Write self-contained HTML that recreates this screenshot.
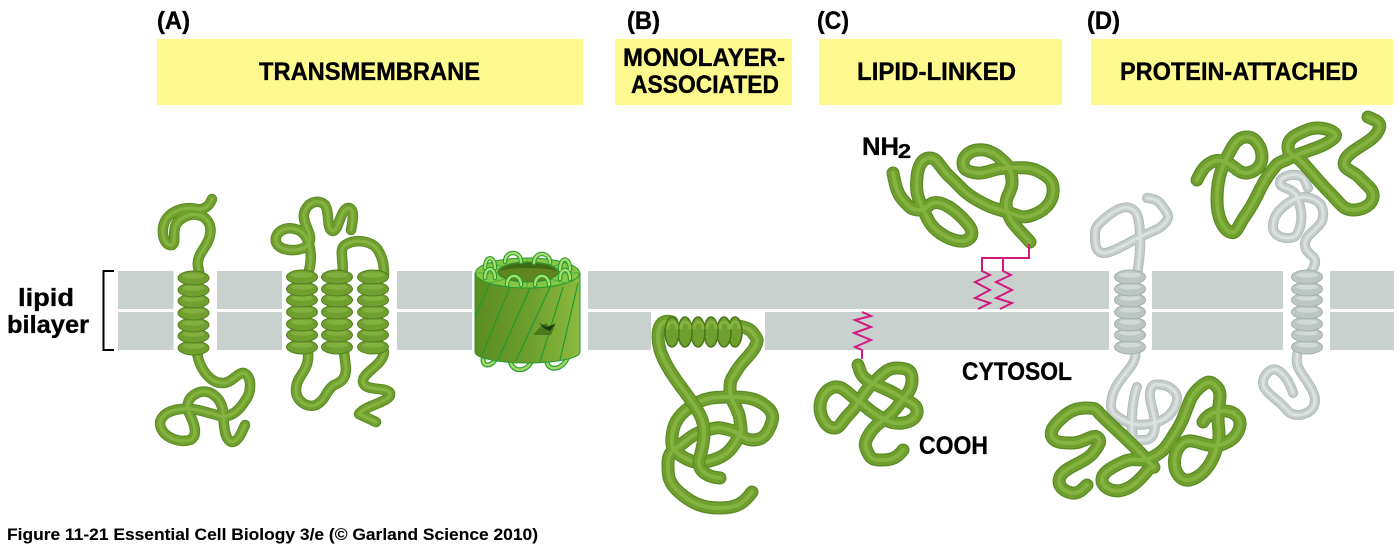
<!DOCTYPE html>
<html>
<head>
<meta charset="utf-8">
<style>
html,body{margin:0;padding:0;background:#fff;width:1400px;height:549px;overflow:hidden}
svg{display:block}
text{font-family:"Liberation Sans",sans-serif;font-weight:bold;fill:#000;stroke:#000;stroke-width:0.35px}
.tube{fill:none;stroke-linecap:round;stroke-linejoin:round}
.o{stroke:#5a8a22;stroke-width:10.5}
.m{stroke:#6f9f2e;stroke-width:8.5}
.h{stroke:#84b340;stroke-width:3.2}
.O{stroke:#5a8a22;stroke-width:13}
.M{stroke:#6f9f2e;stroke-width:10.5}
.H{stroke:#84b340;stroke-width:4}
.go{stroke:#b0bab8;stroke-width:10}
.gm{stroke:#c4cdcb;stroke-width:8}
.gh{stroke:#dbe1df;stroke-width:3}
.lip{fill:none;stroke:#d3187f;stroke-width:2}
</style>
</head>
<body>
<svg width="1400" height="549" viewBox="0 0 1400 549" xmlns="http://www.w3.org/2000/svg">
<defs>
<path id="a1" d="M212,199 C209,207 203,210 197,209 C183,206 165,212 163,228 C162,240 167,246 172,245 C176,243 173,235 175,227 C178,218 190,213 198,215 C208,217 212,226 210,235 C208,247 196,254 198,266 L200,277"/>
<path id="a2" d="M197,352 C199,368 210,384 224,383 C233,382 238,372 244,373 C252,376 252,392 245,401 C238,412 230,418 220,416 C205,412 190,406 175,410 C163,413 158,420 161,428 C165,438 180,443 190,440 C198,436 195,425 190,415 C185,405 188,396 200,392 C212,389 222,400 223,412 C224,425 224,440 232,442 C238,442 242,432 245,425"/>
<path id="a3" d="M308,274 C314,255 310,232 295,229 C283,226 274,234 276,242 C279,252 300,252 307,246 C316,236 302,225 304,214 C306,203 318,198 325,205 C330,212 326,230 333,231 C339,230 340,210 348,208 C355,208 353,220 351,230"/>
<path id="a4" d="M342,275 C345,262 338,250 345,245 C356,238 372,241 378,250 C383,258 384,266 384,275"/>
<path id="a5" d="M308,352 C310,372 296,375 296,390 C296,402 308,408 316,405 C326,400 326,390 334,385 C342,382 346,378 346,368 L344,352"/>
<path id="a6" d="M384,352 C383,366 362,372 363,382 C365,392 385,386 390,393 C392,402 365,405 359,414 L376,422"/>
<path id="b1" d="M672,322 C660,318 655,330 660,350 C668,375 690,395 700,415 C708,430 702,450 699,460 C698,472 708,477 720,478"/>
<path id="b2" d="M735,325 C741,327 749,327 753,333 S759,339 755,347 S743,360 737,370 S730,379 730,390 S739,409 740,420 S743,430 737,440 S726,456 713,460 S693,463 683,457 S671,448 672,437 S676,417 690,407 S715,397 733,397 S759,400 767,407 S773,420 770,427 S763,440 753,440 S741,433 730,430 S718,427 707,430 S693,435 683,443 S668,452 668,463 S667,482 680,493 S703,508 720,508 S744,503 752,492"/>
<path id="c1" d="M893,173 C895,182 896,192 903,200 S912,210 920,210 S929,200 940,203 S960,215 967,223 S973,237 967,240 S950,240 940,233 S928,220 922,207 S916,188 917,177 S922,158 930,158 S939,167 950,177 S963,192 977,200 S994,208 1007,212 S1022,219 1033,215 S1052,203 1053,193 S1051,178 1040,172 S1021,168 1007,168 S987,174 977,173 S963,169 963,163 S969,151 977,150 S992,151 1000,158 S1011,167 1012,180 S1003,196 1007,210 S1016,226 1030,242"/>
<path id="c2" d="M858,365 C860,370 860,375 867,380 S886,388 897,395 S916,403 917,410 S911,422 903,423 S891,423 880,417 S867,407 857,400 S843,386 835,387 S820,397 820,407 S826,427 833,428 S840,423 850,413 S862,393 873,383 S887,368 897,368 S912,370 912,380 S907,394 897,407 S877,422 870,433 S865,446 868,453 S875,460 883,460 S897,458 903,450"/>
<path id="d1" d="M1137,276 C1139,262 1141,248 1140,233 S1138,211 1130,208 S1111,213 1103,220 S1095,229 1095,237 S1096,252 1103,253 S1126,244 1140,237 S1159,230 1165,223 S1167,213 1163,207 S1156,199 1147,198"/>
<path id="d2" d="M1135,350 C1135,353 1137,355 1133,363 S1115,383 1112,397 S1112,414 1123,420 S1144,426 1157,422 S1176,408 1177,400 S1170,386 1163,385 S1151,383 1150,393 S1156,416 1155,427 S1149,440 1143,440 S1133,443 1132,430 S1133,397 1137,387"/>
<path id="d3" d="M1310,274 C1312,270 1316,265 1315,260 S1304,253 1305,243 S1322,228 1323,217 S1320,201 1310,198 S1291,200 1283,207 S1273,220 1273,227 S1280,238 1287,238 S1297,237 1300,227 S1301,207 1297,197 S1280,189 1280,183 S1290,174 1297,175 S1305,180 1308,188"/>
<path id="d4" d="M1298,350 C1298,354 1295,359 1298,367 S1315,389 1315,400 S1305,415 1297,415 S1288,410 1280,403 S1263,390 1263,383 S1270,367 1277,370 S1290,383 1293,393"/>
<path id="d5" d="M1197,180 C1200,174 1203,167 1210,163 S1219,160 1227,163 S1239,174 1247,173 S1262,166 1262,157 S1256,137 1247,137 S1234,143 1227,157 S1217,183 1217,200 S1223,229 1230,232 S1237,227 1247,213 S1260,186 1270,173 S1276,165 1290,158 S1317,149 1327,143 S1337,135 1333,132 S1317,126 1307,130 S1288,138 1288,147 S1293,152 1303,163 S1319,182 1330,193 S1343,210 1353,210 S1372,205 1373,197 S1367,186 1360,178 S1341,170 1345,160 S1371,143 1377,133 S1379,122 1368,117"/>
<path id="d6" d="M1087,485 C1082,490 1078,494 1072,493 S1056,487 1060,477 S1085,463 1093,453 S1101,440 1097,437 S1083,443 1073,443 S1055,443 1052,437 S1055,424 1063,417 S1077,408 1087,408 S1095,409 1103,417 S1136,447 1147,460 S1154,463 1148,470 S1134,487 1123,490 S1102,487 1102,480 S1110,468 1123,462 S1140,464 1153,457 S1167,445 1177,430 S1187,400 1197,390 S1211,380 1217,387 S1218,403 1218,417 S1221,433 1217,447 S1207,471 1197,477 S1181,480 1177,473 S1173,450 1183,443 S1206,449 1220,445 S1239,433 1240,425 S1233,411 1225,411 S1208,413 1203,422"/>
<g id="hg">
<ellipse cx="0" cy="70" rx="15.500" ry="7" fill="#6f9f2e" stroke="#527f1c"/><ellipse cx="0" cy="68" rx="11" ry="2.800" fill="#82b03e"/>
<ellipse cx="0" cy="58" rx="15.500" ry="7" fill="#6f9f2e" stroke="#527f1c"/><ellipse cx="0" cy="56" rx="11" ry="2.800" fill="#82b03e"/>
<ellipse cx="0" cy="47" rx="15.500" ry="7" fill="#6f9f2e" stroke="#527f1c"/><ellipse cx="0" cy="45" rx="11" ry="2.800" fill="#82b03e"/>
<ellipse cx="0" cy="35" rx="15.500" ry="7" fill="#6f9f2e" stroke="#527f1c"/><ellipse cx="0" cy="33" rx="11" ry="2.800" fill="#82b03e"/>
<ellipse cx="0" cy="23" rx="15.500" ry="7" fill="#6f9f2e" stroke="#527f1c"/><ellipse cx="0" cy="21" rx="11" ry="2.800" fill="#82b03e"/>
<ellipse cx="0" cy="12" rx="15.500" ry="7" fill="#6f9f2e" stroke="#527f1c"/><ellipse cx="0" cy="10" rx="11" ry="2.800" fill="#82b03e"/>
<ellipse cx="0" cy="0" rx="15.500" ry="7" fill="#6f9f2e" stroke="#527f1c"/><ellipse cx="0" cy="-2" rx="11" ry="2.800" fill="#82b03e"/>
</g>
<g id="hy">
<ellipse cx="0" cy="70" rx="15.500" ry="7" fill="#bcc6c4" stroke="#a5b0ae"/><ellipse cx="0" cy="68" rx="11" ry="2.600" fill="#d2d9d7"/>
<ellipse cx="0" cy="58" rx="15.500" ry="7" fill="#bcc6c4" stroke="#a5b0ae"/><ellipse cx="0" cy="56" rx="11" ry="2.600" fill="#d2d9d7"/>
<ellipse cx="0" cy="47" rx="15.500" ry="7" fill="#bcc6c4" stroke="#a5b0ae"/><ellipse cx="0" cy="45" rx="11" ry="2.600" fill="#d2d9d7"/>
<ellipse cx="0" cy="35" rx="15.500" ry="7" fill="#bcc6c4" stroke="#a5b0ae"/><ellipse cx="0" cy="33" rx="11" ry="2.600" fill="#d2d9d7"/>
<ellipse cx="0" cy="23" rx="15.500" ry="7" fill="#bcc6c4" stroke="#a5b0ae"/><ellipse cx="0" cy="21" rx="11" ry="2.600" fill="#d2d9d7"/>
<ellipse cx="0" cy="12" rx="15.500" ry="7" fill="#bcc6c4" stroke="#a5b0ae"/><ellipse cx="0" cy="10" rx="11" ry="2.600" fill="#d2d9d7"/>
<ellipse cx="0" cy="0" rx="15.500" ry="7" fill="#bcc6c4" stroke="#a5b0ae"/><ellipse cx="0" cy="-2" rx="11" ry="2.600" fill="#d2d9d7"/>
</g>
<linearGradient id="bar" x1="0" x2="1" y1="0" y2="0"><stop offset="0" stop-color="#5d8c23"/><stop offset="0.55" stop-color="#6f9f2e"/><stop offset="1" stop-color="#8dbb3f"/></linearGradient>
<clipPath id="barclip"><path d="M475,273 L475,352 A52.5,11 0 0 0 580,352 L580,273 A52.5,15 0 0 1 475,273 Z"/></clipPath>
</defs>

<!-- yellow labels -->
<g fill="#fdf98e">
<rect x="157" y="39" width="426" height="66"/>
<rect x="615" y="39" width="177" height="66"/>
<rect x="819" y="39" width="243" height="66"/>
<rect x="1091" y="39" width="302" height="66"/>
</g>

<!-- membrane -->
<g fill="#c8d1ce">
<rect x="118" y="271" width="55.500" height="38"/><rect x="118" y="312" width="55.500" height="38"/>
<rect x="217" y="271" width="65" height="38"/><rect x="217" y="312" width="65" height="38"/>
<rect x="397" y="271" width="75" height="38"/><rect x="397" y="312" width="75" height="38"/>
<rect x="588" y="271" width="521" height="38"/>
<rect x="588" y="312" width="63" height="38"/><rect x="765" y="312" width="344" height="38"/>
<rect x="1152" y="271" width="131" height="38"/><rect x="1152" y="312" width="131" height="38"/>
<rect x="1330" y="271" width="64" height="38"/><rect x="1330" y="312" width="64" height="38"/>
</g>

<!-- bracket -->
<path d="M114,271 H103.500 V350 H114" fill="none" stroke="#000" stroke-width="2"/>

<!-- A -->
<g class="tube">
<use href="#a1" class="o"/><use href="#a1" class="m"/><use href="#a1" class="h"/>
<use href="#a2" class="o"/><use href="#a2" class="m"/><use href="#a2" class="h"/>
<use href="#a3" class="o"/><use href="#a3" class="m"/><use href="#a3" class="h"/>
<use href="#a4" class="o"/><use href="#a4" class="m"/><use href="#a4" class="h"/>
<use href="#a5" class="o"/><use href="#a5" class="m"/><use href="#a5" class="h"/>
<use href="#a6" class="o"/><use href="#a6" class="m"/><use href="#a6" class="h"/>
</g>
<use href="#hg" x="193.500" y="278"/>
<use href="#hg" x="302" y="277"/>
<use href="#hg" x="337" y="277"/>
<use href="#hg" x="373" y="277"/>

<!-- barrel -->
<path d="M485,353 C478,368 492,368 496,358 M510,360 C512,374 528,372 532,360 M547,362 C548,372 564,370 568,356" fill="none" stroke="#2f9a35" stroke-width="5" stroke-linecap="round"/>
<path d="M485,353 C478,368 492,368 496,358 M510,360 C512,374 528,372 532,360 M547,362 C548,372 564,370 568,356" fill="none" stroke="#9fdc66" stroke-width="2.500" stroke-linecap="round"/>
<path d="M475,273 L475,352 A52.5,11 0 0 0 580,352 L580,273 Z" fill="url(#bar)" stroke="#1f9a30" stroke-width="1"/>
<g clip-path="url(#barclip)" stroke="#1f9a30" stroke-width="1.200">
<path d="M490,283 L475,317 M510,287 L482,355 M530,288 L498,360 M550,287 L515,363 M563,287 L540,362 M578,283 L560,360"/>
</g>
<path d="M540,327 L546,323 L549,326 L556,323 L551,335 L533,335 Z" fill="#4d7a1c"/>
<path d="M539,323 L547,327 L555,324 L550,331 L545,329 Z" fill="#153d12"/>
<ellipse cx="527.500" cy="273" rx="52" ry="15" fill="#86c846" stroke="#1f9a30" stroke-width="1"/>
<path d="M527,258 V288 M475,273 H580 M490,263 L565,283 M565,263 L490,283" stroke="#3aa83a" stroke-width="0.800" fill="none"/>
<ellipse cx="528" cy="272" rx="30" ry="10" fill="#5f8420" stroke="#2d8a2d" stroke-width="1"/>
<path d="M500,272 A28,9 0 0 1 556,272 A28,4 0 0 0 500,272 Z" fill="#3f6b17"/>
<g fill="none" stroke="#2f9a35" stroke-width="4.500" stroke-linecap="round">
<path d="M485,268 C485,255 495,255 495,268 M505,262 C505,250 521,250 521,262 M534,263 C534,251 550,251 550,263 M560,270 C560,256 570,256 570,270 M485,278 C485,266 495,266 495,278 M507,285 C507,273 521,273 521,285 M535,285 C535,273 549,273 549,285 M560,279 C560,267 570,267 570,279"/>
</g>
<g fill="none" stroke="#a5e06c" stroke-width="2.300" stroke-linecap="round">
<path d="M485,268 C485,255 495,255 495,268 M505,262 C505,250 521,250 521,262 M534,263 C534,251 550,251 550,263 M560,270 C560,256 570,256 570,270 M485,278 C485,266 495,266 495,278 M507,285 C507,273 521,273 521,285 M535,285 C535,273 549,273 549,285 M560,279 C560,267 570,267 570,279"/>
</g>

<!-- B -->
<g class="tube">
<use href="#b2" class="O"/><use href="#b2" class="M"/><use href="#b2" class="H"/>
<use href="#b1" class="O"/><use href="#b1" class="M"/><use href="#b1" class="H"/>
</g>
<g fill="#6f9f2e" stroke="#4a7419" stroke-width="1.500">
<ellipse cx="735" cy="332" rx="7" ry="15"/>
<ellipse cx="724" cy="332" rx="7" ry="15"/>
<ellipse cx="711" cy="332" rx="7" ry="15"/>
<ellipse cx="698" cy="332" rx="7" ry="15"/>
<ellipse cx="685" cy="332" rx="7" ry="15"/>
<ellipse cx="672" cy="332" rx="7" ry="15"/>
</g>
<g fill="none" stroke="#84b340" stroke-width="3" stroke-linecap="round">
<path d="M668,328 C668,320 677,320 677,328 M681,328 C681,320 690,320 690,328 M694,328 C694,320 703,320 703,328 M707,328 C707,320 716,320 716,328 M720,328 C720,320 729,320 729,328 M731,328 C731,320 739,320 739,328"/>
</g>

<!-- C -->
<g class="tube">
<use href="#c1" class="O"/><use href="#c1" class="M"/><use href="#c1" class="H"/>
<use href="#c2" class="O"/><use href="#c2" class="M"/><use href="#c2" class="H"/>
</g>
<path class="lip" d="M1029,244 V258 H982 V271 L990,275 L975,282 L990,290 L975,298 L990,303 L978,309"/>
<path class="lip" d="M1003,258 V271 L1011,275 L996,282 L1012,290 L996,298 L1012,303 L1000,309"/>
<path class="lip" d="M862,359 V350 L855,347 L871,340 L854,333 L871,327 L855,320 L871,316 L862,312"/>

<!-- D -->
<g class="tube">
<use href="#d1" class="go"/><use href="#d1" class="gm"/><use href="#d1" class="gh"/>
<use href="#d2" class="go"/><use href="#d2" class="gm"/><use href="#d2" class="gh"/>
<use href="#d3" class="go"/><use href="#d3" class="gm"/><use href="#d3" class="gh"/>
<use href="#d4" class="go"/><use href="#d4" class="gm"/><use href="#d4" class="gh"/>
<use href="#d5" class="O"/><use href="#d5" class="M"/><use href="#d5" class="H"/>
<use href="#d6" class="O"/><use href="#d6" class="M"/><use href="#d6" class="H"/>
</g>
<use href="#hy" x="1130" y="277"/>
<use href="#hy" x="1307" y="277"/>

<!-- text -->
<g font-size="25">
<text x="157" y="29" textLength="33" lengthAdjust="spacingAndGlyphs">(A)</text>
<text x="627" y="29" textLength="33" lengthAdjust="spacingAndGlyphs">(B)</text>
<text x="817" y="29" textLength="32" lengthAdjust="spacingAndGlyphs">(C)</text>
<text x="1087" y="29" textLength="33" lengthAdjust="spacingAndGlyphs">(D)</text>
<text x="259" y="80" textLength="221" lengthAdjust="spacingAndGlyphs">TRANSMEMBRANE</text>
<text x="623" y="66" textLength="162" lengthAdjust="spacingAndGlyphs">MONOLAYER-</text>
<text x="631" y="93" textLength="148" lengthAdjust="spacingAndGlyphs">ASSOCIATED</text>
<text x="857" y="80" textLength="159" lengthAdjust="spacingAndGlyphs">LIPID-LINKED</text>
<text x="1120" y="80" textLength="238" lengthAdjust="spacingAndGlyphs">PROTEIN-ATTACHED</text>
<text x="18" y="306" textLength="56" lengthAdjust="spacingAndGlyphs">lipid</text>
<text x="7" y="333" textLength="82" lengthAdjust="spacingAndGlyphs">bilayer</text>
<text x="862" y="155" textLength="37" lengthAdjust="spacingAndGlyphs">NH</text>
<text x="898" y="158" font-size="20" textLength="13" lengthAdjust="spacingAndGlyphs">2</text>
<text x="962" y="380" textLength="110" lengthAdjust="spacingAndGlyphs">CYTOSOL</text>
<text x="919" y="454" textLength="69" lengthAdjust="spacingAndGlyphs">COOH</text>
</g>
<text x="7" y="540" font-size="17" style="stroke-width:0.1px" textLength="531" lengthAdjust="spacingAndGlyphs">Figure 11-21  Essential Cell Biology 3/e (© Garland Science 2010)</text>
</svg>
</body>
</html>
